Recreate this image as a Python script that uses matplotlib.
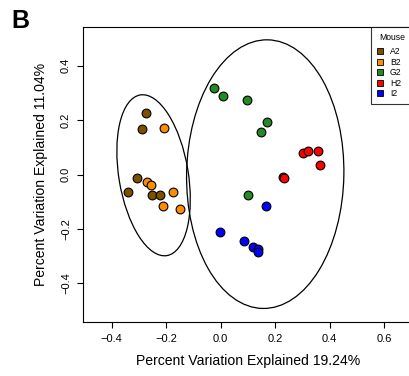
import matplotlib
matplotlib.use("Agg")
import matplotlib.pyplot as plt
from matplotlib.patches import Ellipse
from matplotlib.lines import Line2D
import numpy as np

plt.rcParams["font.family"] = ["Liberation Sans", "DejaVu Sans"]

# PCoA coordinates, one pair of lists per mouse
MICE = ["A2", "B2", "G2", "H2", "I2"]
COLORS = ["#7f4f00", "#ff8c00", "#228b22", "#ff0000", "#0000ff"]

A2_X = [-0.275, -0.288, -0.306, -0.341, -0.251, -0.222]
A2_Y = [0.228, 0.168, -0.013, -0.063, -0.075, -0.075]
B2_X = [-0.209, -0.269, -0.255, -0.174, -0.212, -0.150]
B2_Y = [0.172, -0.029, -0.040, -0.063, -0.116, -0.128]
G2_X = [-0.026, 0.010, 0.095, 0.171, 0.149, 0.100]
G2_Y = [0.318, 0.288, 0.274, 0.193, 0.155, -0.074]
H2_X = [0.302, 0.320, 0.357, 0.366, 0.230, 0.232]
H2_Y = [0.079, 0.087, 0.087, 0.034, -0.008, -0.012]
I2_X = [0.165, -0.001, 0.084, 0.120, 0.136, 0.137]
I2_Y = [-0.115, -0.213, -0.245, -0.266, -0.274, -0.284]

XS = [A2_X, B2_X, G2_X, H2_X, I2_X]
YS = [A2_Y, B2_Y, G2_Y, H2_Y, I2_Y]

# which mice are pooled into each 95% normal ellipse
ELLIPSE_GROUPS = [["A2", "B2"], ["G2", "H2", "I2"]]
X_TICKS = [-0.4, -0.2, 0.0, 0.2, 0.4, 0.6]
Y_TICKS = [-0.4, -0.2, 0.0, 0.2, 0.4]

W, H = 409, 376
fig = plt.figure(figsize=(W / 100, H / 100), dpi=100)
ax = fig.add_axes([83 / W, 1 - 322 / H, 330 / W, 295 / H])

for mouse, col, xs, ys in zip(MICE, COLORS, XS, YS):
    ax.scatter(xs, ys, s=40, c=col, edgecolors="black", linewidths=0.8, zorder=3)

# confidence ellipses (chi-square, 2 df, 95%)
k = np.sqrt(-2 * np.log(0.05))
for grp in ELLIPSE_GROUPS:
    idx = [MICE.index(m) for m in grp]
    px = np.concatenate([XS[i] for i in idx])
    py = np.concatenate([YS[i] for i in idx])
    cov = np.cov(px, py)
    vals, vecs = np.linalg.eigh(cov)
    ang = np.degrees(np.arctan2(vecs[1, 1], vecs[0, 1]))
    ax.add_patch(Ellipse((px.mean(), py.mean()), 2 * k * np.sqrt(vals[1]),
                         2 * k * np.sqrt(vals[0]), angle=ang,
                         fill=False, edgecolor="black", linewidth=0.9, zorder=2))

ax.set_xlim(-0.505, 0.706)
ax.set_ylim(-0.543, 0.543)
ax.set_xticks(X_TICKS)
ax.set_yticks(Y_TICKS)
ax.set_xticklabels([f"{t:.1f}".replace("-", "\u2212") for t in X_TICKS])
ax.set_yticklabels([f"{t:.1f}".replace("-", "\u2212") for t in Y_TICKS],
                   rotation=90, va="center")
ax.tick_params(direction="out", length=4.2, width=0.8, pad=4.5, labelsize=8)
for sp in ax.spines.values():
    sp.set_linewidth(0.8)

ax.set_xlabel("Percent Variation Explained 19.24%", fontsize=10.1)
ax.set_ylabel("Percent Variation Explained 11.04%", fontsize=10.1)
ax.xaxis.set_label_coords(0.5, -0.132)
ax.xaxis.label.set_va("center")
ax.yaxis.set_label_coords(-0.127, 0.5)
ax.yaxis.label.set_va("center")

handles = [Line2D([], [], marker="s", linestyle="none", markersize=4.3,
                  markerfacecolor=c, markeredgecolor="black", markeredgewidth=0.6)
           for c in COLORS]
lx = (371 - 83) / 330
leg = ax.legend(handles, MICE, title="Mouse", loc="upper left",
                bbox_to_anchor=(lx, 0.0, 1 - lx, 1.0), mode="expand",
                borderaxespad=0, fontsize=6.2, title_fontsize=6.2,
                handlelength=0.8, handletextpad=0.75, labelspacing=0.17,
                borderpad=0.65, fancybox=False)
leg._legend_box.sep = 4.0   # a bit more room under the title, like R
leg.get_frame().set_edgecolor("black")
leg.get_frame().set_linewidth(0.8)

fig.text(11 / W, 1 - 28 / H, "B", fontsize=18, fontweight="bold",
         ha="left", va="baseline")

fig.savefig("out.png", dpi=100)
